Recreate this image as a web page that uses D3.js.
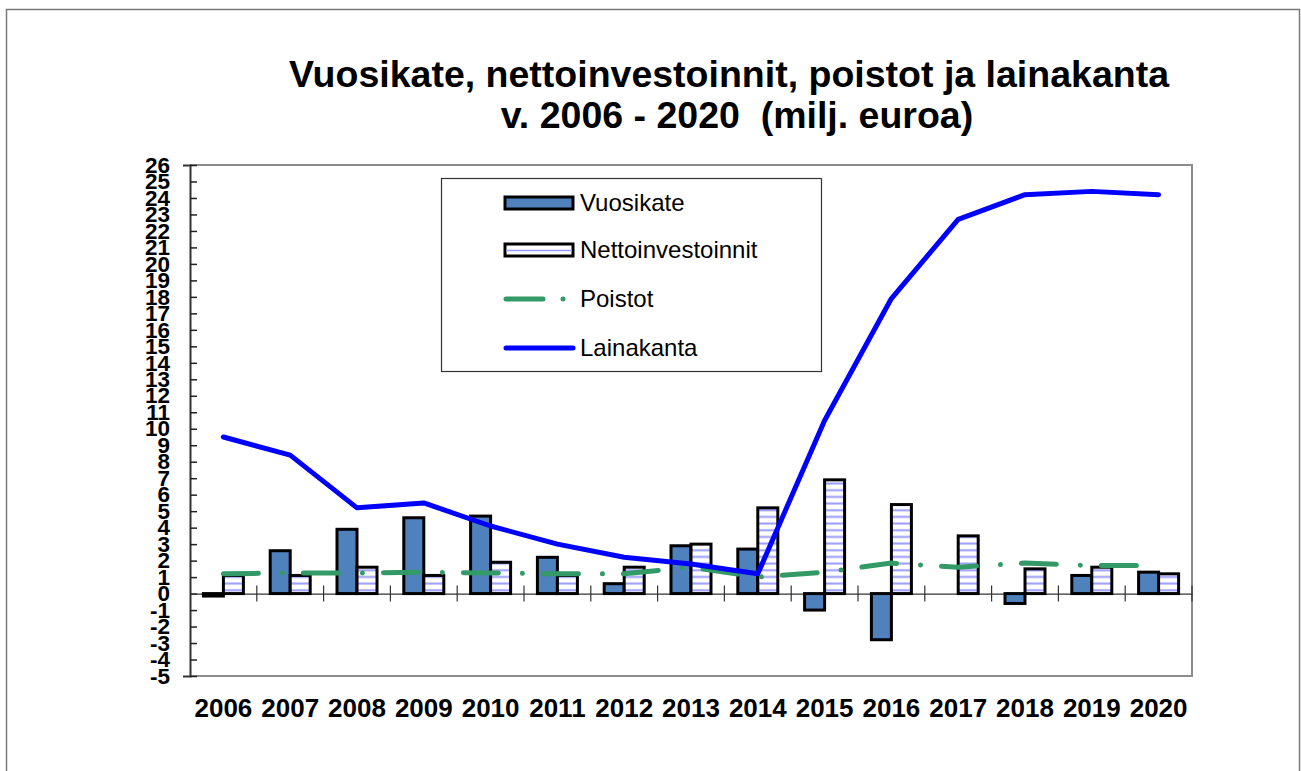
<!DOCTYPE html>
<html>
<head>
<meta charset="utf-8">
<script src="https://cdn.jsdelivr.net/npm/d3@7"></script>
<style>
  body { margin: 0; background: #fff; }
  svg { display: block; font-family: "Liberation Sans", Arial, sans-serif; }
</style>
</head>
<body>
<svg id="chart" width="1301" height="771"></svg>
<script>
// data (milj. euroa)
const years = ["2006", "2007", "2008", "2009", "2010", "2011", "2012", "2013", "2014", "2015", "2016", "2017", "2018", "2019", "2020"];
const vuosikate = [-0.15, 2.6, 3.9, 4.6, 4.7, 2.2, 0.6, 2.9, 2.7, -1.0, -2.8, 0, -0.6, 1.1, 1.3];
const nettoinvestoinnit = [1.1, 1.1, 1.6, 1.1, 1.9, 1.1, 1.6, 3.0, 5.2, 6.9, 5.4, 3.5, 1.5, 1.6, 1.2];
const poistot = [1.2, 1.25, 1.25, 1.3, 1.25, 1.2, 1.2, 1.6, 1.0, 1.3, 1.85, 1.6, 1.85, 1.7, 1.7];
const lainakanta = [9.5, 8.4, 5.2, 5.5, 4.1, 3.0, 2.2, 1.8, 1.2, 10.5, 17.9, 22.7, 24.2, 24.4, 24.2];
const yTicks = d3.range(-5, 27);
const seriesNames = ["Vuosikate", "Nettoinvestoinnit", "Poistot", "Lainakanta"];

const svg = d3.select("#chart");

// outer frame
svg.append("rect")
  .attr("x", 6.5).attr("y", 9.5).attr("width", 1293).attr("height", 800)
  .attr("fill", "none").attr("stroke", "#7a7a7a").attr("stroke-width", 1.5);

// stripe pattern for nettoinvestoinnit
const defs = svg.append("defs");
const pat = defs.append("pattern")
  .attr("id", "stripes").attr("patternUnits", "userSpaceOnUse")
  .attr("width", 10).attr("height", 6.67);
pat.append("rect").attr("width", 10).attr("height", 6.67).attr("fill", "#fff");
pat.append("rect").attr("y", 2.3).attr("width", 10).attr("height", 2).attr("fill", "#9b9bff");

const plotL = 190, plotR = 1192, plotT = 165, plotB = 676;

const x = d3.scaleBand().domain(years).range([plotL, plotR]).padding(0);
const bw = x.bandwidth();
const x1 = d3.scaleBand().domain(["v", "n"]).range([bw / 2 - 20, bw / 2 + 20]);
const y = d3.scaleLinear().domain([-5, 26]).range([plotB, plotT]);

// title
const title = svg.append("g").attr("font-weight", "bold").attr("font-size", 37.5)
  .attr("text-anchor", "middle").attr("fill", "#000");
title.append("text").attr("x", 729).attr("y", 87).text("Vuosikate, nettoinvestoinnit, poistot ja lainakanta");
title.append("text").attr("x", 737).attr("y", 128).attr("xml:space", "preserve").text("v. 2006 - 2020  (milj. euroa)");

// plot frame (top, right, bottom)
svg.append("path")
  .attr("d", `M${plotL},${plotT}H${plotR}V${plotB}H${plotL}`)
  .attr("fill", "none").attr("stroke", "#8c8c8c").attr("stroke-width", 2);

// y axis (plain hyphen for negatives, like the original)
const yAxis = svg.append("g")
  .attr("transform", `translate(${plotL},0)`)
  .call(d3.axisLeft(y).tickValues(yTicks).tickFormat(d => String(d)).tickSize(7).tickPadding(13));
yAxis.select(".domain").attr("stroke", "#333").attr("stroke-width", 2);
yAxis.selectAll(".tick line").attr("x2", 7).attr("stroke", "#222").attr("stroke-width", 1.5);
yAxis.selectAll(".tick text")
  .attr("font-size", 22.5).attr("font-weight", "bold").attr("fill", "#000")
  .attr("font-family", "Liberation Sans, Arial, sans-serif");

// zero line with category ticks
const zero = svg.append("g").attr("transform", `translate(0,${y(0)})`)
  .call(d3.axisBottom(x).tickSize(0).tickFormat(""));
zero.select(".domain").attr("stroke", "#333").attr("stroke-width", 1.2);
zero.selectAll(".tick").remove();
zero.selectAll("line.cat").data(years)
  .join("line").attr("class", "cat")
  .attr("x1", d => x(d) + bw).attr("x2", d => x(d) + bw)
  .attr("y1", -8).attr("y2", 8).attr("stroke", "#333").attr("stroke-width", 1.2);

// x labels
svg.append("g").selectAll("text").data(years).join("text")
  .attr("x", d => x(d) + bw / 2).attr("y", 717)
  .attr("text-anchor", "middle").attr("font-size", 26).attr("font-weight", "bold")
  .text(d => d);

// bars
const barW = x1.bandwidth();
svg.append("g").selectAll("rect").data(years.map((d, i) => ({ year: d, v: vuosikate[i] })))
  .join("rect")
  .attr("x", d => x(d.year) + x1("v"))
  .attr("y", d => y(Math.max(0, d.v)))
  .attr("width", barW)
  .attr("height", d => Math.abs(y(d.v) - y(0)))
  .attr("fill", "#4f81bd").attr("stroke", "#000").attr("stroke-width", 3)
  .attr("display", d => d.v === 0 ? "none" : null);

svg.append("g").selectAll("rect").data(years.map((d, i) => ({ year: d, v: nettoinvestoinnit[i] })))
  .join("rect")
  .attr("x", d => x(d.year) + x1("n"))
  .attr("y", d => y(Math.max(0, d.v)))
  .attr("width", barW)
  .attr("height", d => Math.abs(y(d.v) - y(0)))
  .attr("fill", "url(#stripes)").attr("stroke", "#000").attr("stroke-width", 3);

// poistot (dash-dot)
const line = d3.line().x((d, i) => x(years[i]) + bw / 2).y(d => y(d));
svg.append("path").datum(poistot)
  .attr("d", line)
  .attr("fill", "none").attr("stroke", "#339966").attr("stroke-width", 5)
  .attr("stroke-linecap", "round").attr("stroke-dasharray", "35,24,0.01,21");

// lainakanta
svg.append("path").datum(lainakanta)
  .attr("d", line)
  .attr("fill", "none").attr("stroke", "#0000ff").attr("stroke-width", 5)
  .attr("stroke-linecap", "round").attr("stroke-linejoin", "round");

// legend
const lg = svg.append("g");
lg.append("rect").attr("x", 441.5).attr("y", 178.5).attr("width", 380).attr("height", 193)
  .attr("fill", "#fff").attr("stroke", "#333").attr("stroke-width", 1.2);
const rowY = [203, 250, 299, 348];
const items = lg.selectAll("g.item").data(seriesNames).join("g").attr("class", "item")
  .attr("transform", (d, i) => `translate(0,${rowY[i]})`);
items.append("text").attr("x", 580).attr("y", 0).attr("dy", "0.35em")
  .attr("font-size", 24).text(d => d);
items.filter((d, i) => i === 0).append("rect")
  .attr("x", 505).attr("y", -6).attr("width", 68).attr("height", 12)
  .attr("fill", "#4f81bd").attr("stroke", "#000").attr("stroke-width", 3);
items.filter((d, i) => i === 1).append("rect")
  .attr("x", 505).attr("y", -6).attr("width", 68).attr("height", 12)
  .attr("fill", "#fff").attr("stroke", "#000").attr("stroke-width", 3);
items.filter((d, i) => i === 1).append("line")
  .attr("x1", 506).attr("x2", 572).attr("y1", 0.5).attr("y2", 0.5)
  .attr("stroke", "#9b9bff").attr("stroke-width", 1.5);
items.filter((d, i) => i === 2).append("line")
  .attr("x1", 506).attr("x2", 573).attr("y1", 0).attr("y2", 0)
  .attr("stroke", "#339966").attr("stroke-width", 5).attr("stroke-linecap", "round")
  .attr("stroke-dasharray", "37,20,0.01,30");
items.filter((d, i) => i === 3).append("line")
  .attr("x1", 506).attr("x2", 573).attr("y1", 0).attr("y2", 0)
  .attr("stroke", "#0000ff").attr("stroke-width", 5).attr("stroke-linecap", "round");
</script>
</body>
</html>
